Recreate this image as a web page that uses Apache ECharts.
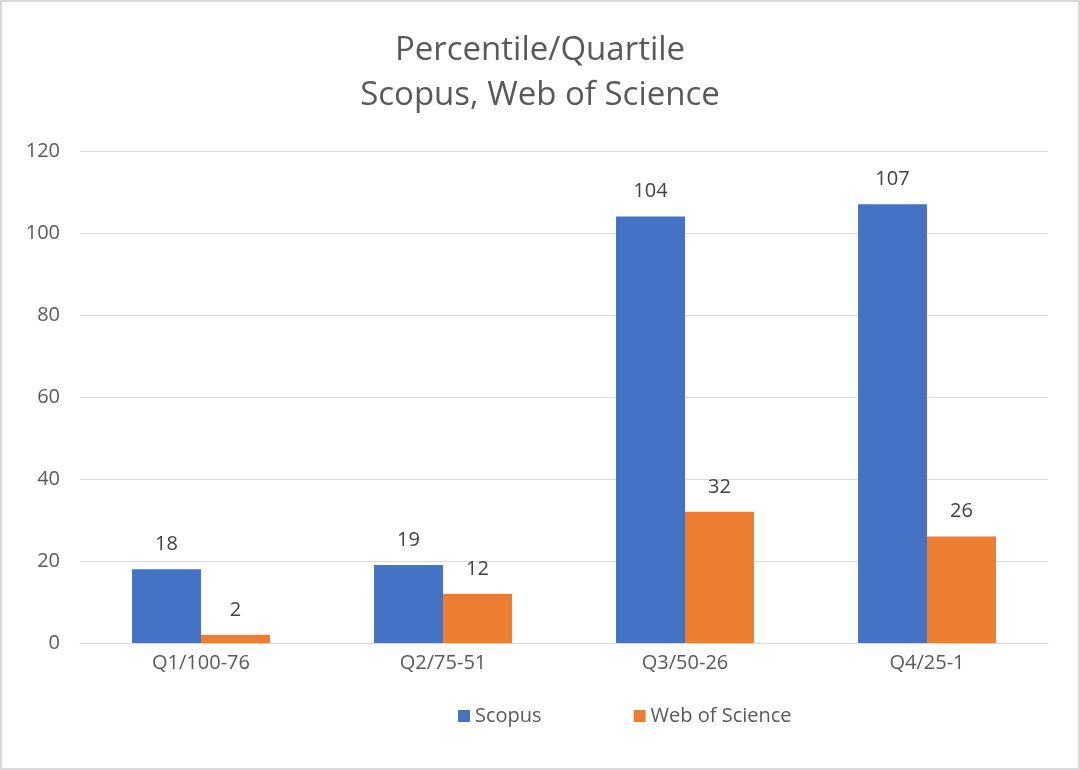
<!DOCTYPE html>
<html>
<head>
<meta charset="utf-8">
<script src="https://cdn.jsdelivr.net/npm/echarts@6/dist/echarts.min.js"></script>
<style>
html,body{margin:0;padding:0;background:#fff;}
#c{position:absolute;left:0;top:0;width:1076px;height:766px;border:2px solid #d9d9d9;}
</style>
</head>
<body>
<div id="c"></div>
<script>
const categories = ['Q1/100-76', 'Q2/75-51', 'Q3/50-26', 'Q4/25-1'];
const scopus = [18, 19, 104, 107];
const wos = [2, 12, 32, 26];
const yTicks = [0, 20, 40, 60, 80, 100, 120];

const font = '"Open Sans", "Liberation Sans", sans-serif';
const chart = echarts.init(document.getElementById('c'));
chart.setOption({
  animation: false,
  title: {
    text: 'Percentile/Quartile\nScopus, Web of Science',
    left: 'center', top: 21,
    textStyle: { fontFamily: font, fontSize: 33, fontWeight: 'normal', color: '#595959', lineHeight: 45 }
  },
  legend: {
    top: 699, left: 451, itemWidth: 12, itemHeight: 12, itemGap: 92,
    icon: 'rect',
    textStyle: { fontFamily: font, fontSize: 20, color: '#595959' },
    data: ['Scopus', 'Web of Science']
  },
  grid: { left: 78, right: 30, top: 149, bottom: 125 },
  xAxis: {
    type: 'category', data: categories,
    axisLine: { lineStyle: { color: '#d9d9d9', width: 1 } },
    axisTick: { show: false },
    axisLabel: { fontFamily: font, fontSize: 20, color: '#595959', margin: 10 }
  },
  yAxis: {
    type: 'value', min: yTicks[0], max: yTicks[yTicks.length - 1], interval: 20,
    axisLine: { show: false }, axisTick: { show: false },
    splitLine: { lineStyle: { color: '#d9d9d9', width: 1 } },
    axisLabel: { fontFamily: font, fontSize: 20, color: '#595959', margin: 20 }
  },
  series: [
    { name: 'Scopus', type: 'bar', data: scopus, barGap: '0%', barCategoryGap: '43%',
      itemStyle: { color: '#4472c4' },
      label: { show: true, position: 'top', distance: 15, fontFamily: font, fontSize: 20, color: '#404040' } },
    { name: 'Web of Science', type: 'bar', data: wos,
      itemStyle: { color: '#ed7d31' },
      label: { show: true, position: 'top', distance: 15, fontFamily: font, fontSize: 20, color: '#404040' } }
  ]
});
</script>
</body>
</html>
